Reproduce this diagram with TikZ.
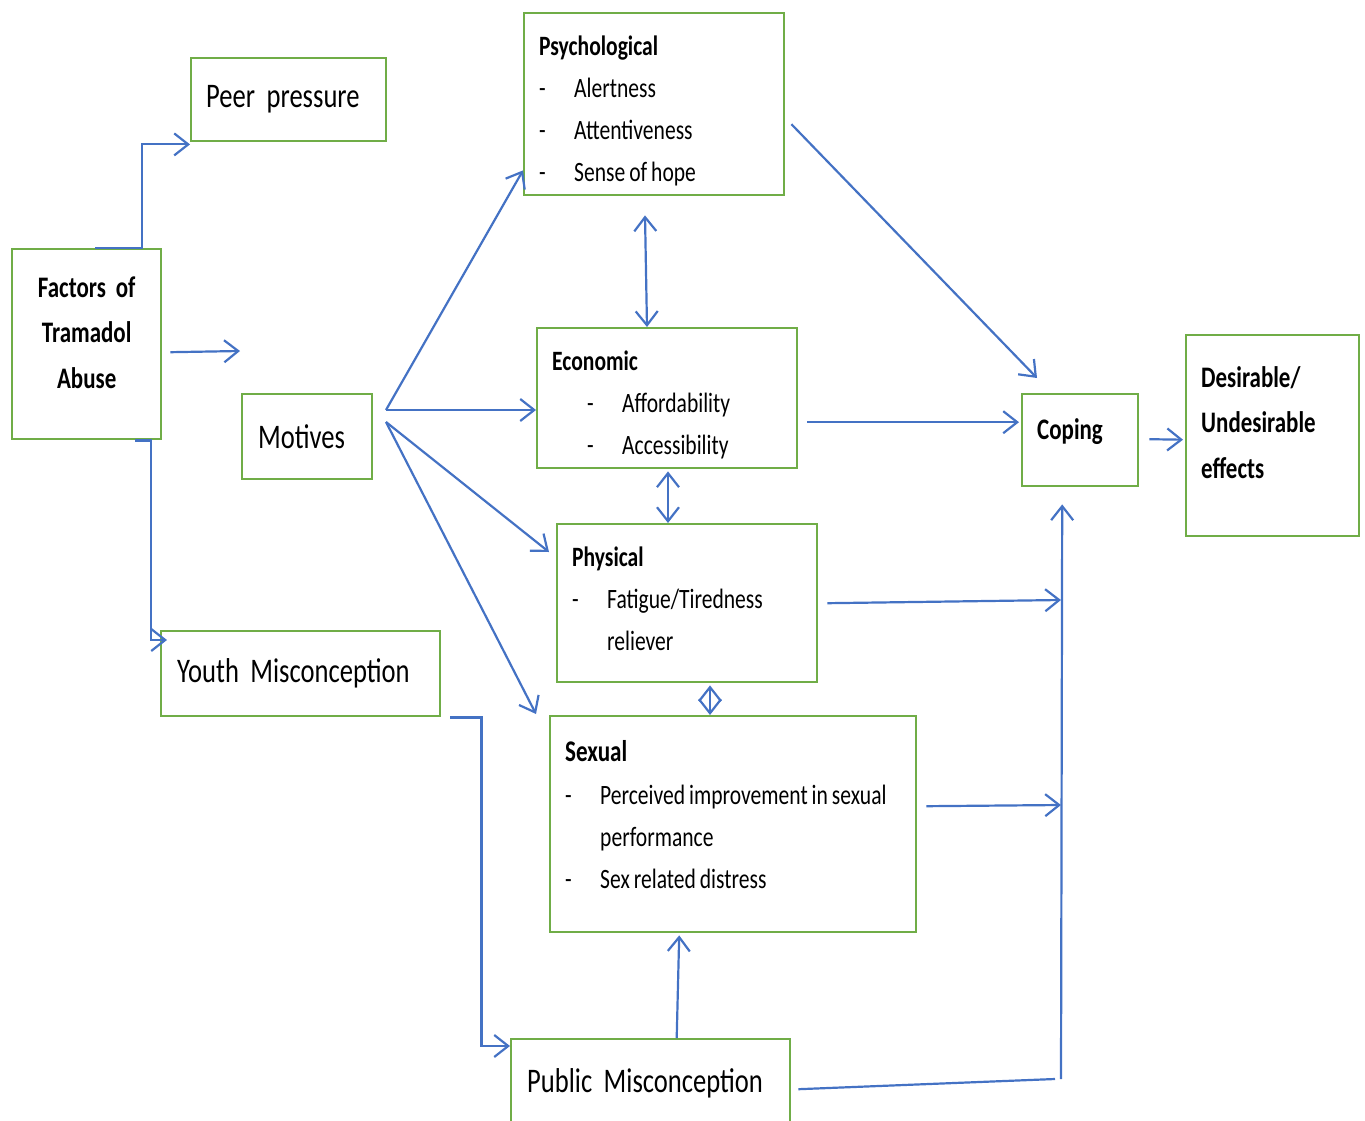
\documentclass[tikz,border=0pt]{standalone}
\usepackage{fontspec}
\setmainfont{Carlito}[FakeStretch=0.77]
\usepackage{tikz}
\usepackage{xcolor}
\usetikzlibrary{positioning,arrows.meta}

\definecolor{boxgreen}{HTML}{70AD47}
\definecolor{arrblue}{HTML}{4472C4}
\newcommand{\itm}[1]{\makebox[35pt][l]{-}\mbox{#1}}
\newcommand{\cont}[1]{\hspace*{35pt}#1}
\protected\def\tightsp{\spaceskip=0.82\fontdimen2\font plus 0.1\fontdimen2\font\relax}

\begin{document}
\begin{tikzpicture}[x=1pt,y=-1pt,
  box/.style={draw=boxgreen, line width=2.4pt, rectangle, anchor=north west,
    inner xsep=15pt, inner ysep=4pt},
  bigtext/.style={font=\fontsize{34.5}{42}\selectfont},
  listtext/.style={font=\fontsize{28}{42}\selectfont, align=left, execute at begin node=\tightsp},
  headtext/.style={font=\bfseries\fontsize{29.8}{45.5}\selectfont},
  toptext/.style={text height=0pt, text depth=#1},
  arr/.style={draw=arrblue, line width=2.2pt, -{Straight Barb[length=14pt,width=22pt]}},
  arrtwo/.style={draw=arrblue, line width=2.2pt, {Straight Barb[length=14pt,width=22pt]}-{Straight Barb[length=14pt,width=22pt]}},
  link/.style={draw=arrblue, line width=2.2pt}]
\useasboundingbox (0,0) rectangle (1365,1121);
\clip (0,0) rectangle (1365,1121);

% left column
\node[box, headtext, align=center, toptext=94pt, text width=119pt, minimum width=149pt, minimum height=190pt] (factors) at (11,248) {Factors of\\Tramadol\\Abuse};
\node[box, bigtext, text width=165pt, minimum width=195pt, minimum height=83pt] (peer) at (190,57) {Peer pressure};
\node[box, bigtext, text width=98pt, inner xsep=16pt, minimum width=130pt, minimum height=85pt] (motives) at (241,393) {Motives};
\node[box, bigtext, text width=247pt, inner xsep=16pt, minimum width=279pt, minimum height=85pt] (youth) at (160,630) {Youth Misconception};
\node[box, bigtext, text width=247pt, inner xsep=16pt, minimum width=279pt, minimum height=88pt] (public) at (510,1038) {Public Misconception};

% motives
\node[box, listtext, toptext=98pt, text width=230pt, minimum width=260pt, minimum height=182pt] (psych) at (523,12)
  {\textbf{Psychological}\\\itm{Alertness}\\\itm{Attentiveness}\\\itm{Sense of hope}};
\node[box, listtext, toptext=56pt, text width=230pt, minimum width=260pt, minimum height=140pt] (econ) at (536,327)
  {\textbf{Economic}\\\hspace*{35pt}\itm{Affordability}\\\hspace*{35pt}\itm{Accessibility}};
\node[box, listtext, toptext=74pt, text width=230pt, minimum width=260pt, minimum height=158pt] (phys) at (556,523)
  {\textbf{Physical}\\\itm{Fatigue/Tiredness}\\\cont{reliever}};
\node[box, listtext, toptext=126pt, text width=336pt, minimum width=366pt, minimum height=216pt] (sexual) at (549,715)
  {{\bfseries\fontsize{30}{42}\selectfont Sexual}\\[1pt]\itm{Perceived improvement in sexual}\\\cont{performance}\\\itm{Sex related distress}};

% outcome
\node[box, headtext, toptext=2pt, text width=86pt, minimum width=116pt, minimum height=92pt] (coping) at (1021,393) {Coping};
\node[box, headtext, align=left, toptext=97pt, text width=143pt, minimum width=173pt, minimum height=201pt] (effects) at (1185,334)
  {Desirable/\\Undesirable\\effects};

% free ends
\coordinate (motin) at (240,351);
\coordinate (fanA) at (386,410);
\coordinate (fanB) at (386,422);
\coordinate (joinP) at (1061,600);
\coordinate (joinS) at (1061,805);
\coordinate (pubend) at (1055,1079);
\coordinate (vbot) at (1061,1079);

% connectors
\draw[arr] ([xshift=84pt]factors.north west) -- ([xshift=131pt]factors.north west) |- ([yshift=-2pt]peer.south west);
\draw[arr] ([xshift=8pt,yshift=-8pt]factors.east) -- (motin);
\draw[arr] ([xshift=124pt]factors.south west) -- ([xshift=140pt]factors.south west) |- ([xshift=7pt,yshift=-10pt]youth.north west);
\draw[arr] ([xshift=9pt]youth.south east) -- ([xshift=40pt]youth.south east) |- ([yshift=-8pt]public.north west);

\draw[arr] (fanA) -- ([yshift=26pt]psych.south west);
\draw[arr] (fanA) -- ([yshift=-83pt]econ.north west);
\draw[arr] (fanB) -- ([xshift=-7pt,yshift=-29pt]phys.north west);
\draw[arr] (fanB) -- ([xshift=-13pt,yshift=1pt]sexual.north west);

\draw[arrtwo] ([xshift=122pt,yshift=-19pt]psych.south west) -- ([xshift=111pt]econ.north west);
\draw[arrtwo] ([xshift=132pt,yshift=-2pt]econ.south west) -- ([xshift=112pt]phys.north west);
\draw[arrtwo] ([xshift=154pt,yshift=-2pt]phys.south west) -- ([xshift=161pt]sexual.north west);

\draw[arr] ([xshift=6pt,yshift=-20pt]psych.east) -- ([xshift=16pt,yshift=15pt]coping.north west);
\draw[arr] ([xshift=9pt,yshift=-24pt]econ.east) -- ([xshift=-2pt,yshift=18pt]coping.west);
\draw[arr] ([xshift=9pt]phys.east) -- (joinP);
\draw[arr] ([xshift=9pt,yshift=18pt]sexual.east) -- (joinS);
\draw[link] ([xshift=7pt,yshift=-6pt]public.east) -- (pubend);
\draw[arr] (vbot) -- ([xshift=-18pt,yshift=-17pt]coping.south);
\draw[arr] ([xshift=26pt]public.north) -- ([xshift=-54pt,yshift=-2pt]sexual.south);
\draw[arr] ([xshift=10pt,yshift=1pt]coping.east) -- ([xshift=-2pt,yshift=-4pt]effects.west);
\end{tikzpicture}
\end{document}
